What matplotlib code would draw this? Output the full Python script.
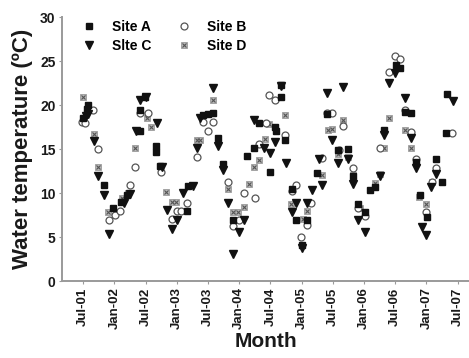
import matplotlib
matplotlib.use("Agg")
import matplotlib.pyplot as plt

# x = months after Jul-01, y = water temperature (oC)
site_a_month = [-0.1, 0.7, 1.0, 3.9, 5.8, 7.3, 8.4, 10.9, 10.9, 11.9, 14.0, 14.0, 14.7,
                19.9, 20.2, 23.1, 24.0, 25.0, 26.0, 26.9, 28.8, 31.5, 32.8, 33.8, 35.9,
                36.8, 37.0, 38.0, 38.0, 38.9, 40.1, 40.9, 42.0, 43.0, 44.9, 46.9, 49.0,
                51.0, 51.9, 52.9, 54.2, 55.1, 56.1, 57.9, 60.1, 60.9, 61.9, 63.0, 64.0,
                64.8, 66.1, 67.8, 69.1, 69.8, 69.9]
site_a_temp = [18.5, 19.6, 20.0, 10.9, 8.3, 9.0, 9.8, 17.0, 19.4, 20.9, 15.3, 14.7, 13.1,
               8.0, 10.8, 18.9, 19.0, 19.1, 16.2, 13.3, 6.9, 14.2, 15.1, 18.0, 12.4,
               17.5, 17.0, 22.3, 20.9, 16.0, 10.5, 6.9, 4.1, 6.9, 12.3, 19.0, 14.9,
               15.0, 11.9, 8.7, 7.9, 10.3, 10.7, 17.2, 24.5, 24.2, 19.2, 19.1, 13.5,
               9.8, 7.3, 13.9, 11.3, 16.8, 21.3]

site_b_month = [-0.2, 0.4, 1.8, 2.9, 4.9, 6.2, 7.1, 9.0, 9.9, 10.9, 12.5, 15.0, 17.0,
                18.0, 18.9, 19.9, 21.8, 23.1, 24.0, 25.0, 27.9, 28.8, 29.9, 30.9, 33.0,
                33.8, 35.2, 35.7, 36.8, 38.9, 40.1, 41.0, 41.9, 43.0, 43.9, 46.0, 46.9,
                47.9, 49.2, 50.0, 51.9, 52.9, 54.2, 57.0, 58.9, 60.0, 60.9, 61.9, 63.0,
                64.0, 66.0, 67.0, 67.9, 70.9]
site_b_temp = [18.1, 18.0, 19.4, 15.0, 6.9, 7.5, 8.0, 10.9, 13.0, 19.1, 19.1, 12.4, 7.0,
               8.0, 8.0, 8.9, 14.1, 18.1, 17.0, 18.1, 11.2, 6.3, 6.9, 10.0, 9.4,
               15.6, 18.0, 21.1, 20.6, 16.6, 10.2, 10.9, 5.0, 6.4, 8.9, 14.0, 19.1,
               19.1, 14.9, 17.6, 12.8, 8.3, 7.4, 15.1, 23.8, 25.6, 25.2, 19.4, 16.9,
               13.9, 7.9, 11.3, 12.8, 16.8]

site_c_month = [0.5, 1.0, 2.0, 2.8, 3.9, 5.0, 7.8, 9.0, 10.1, 11.0, 12.1, 14.1, 15.1,
                16.1, 17.0, 18.0, 19.2, 21.2, 21.8, 22.4, 25.0, 26.0, 26.9, 27.9, 28.8,
                29.9, 30.9, 32.8, 34.8, 36.0, 36.8, 38.0, 39.0, 40.1, 41.0, 42.0, 43.0,
                44.0, 45.4, 46.0, 46.8, 47.9, 49.0, 49.9, 51.0, 51.9, 52.9, 54.2, 57.1,
                57.9, 58.9, 60.0, 61.9, 63.0, 64.0, 65.1, 66.0, 66.9, 67.9, 71.2]
site_c_temp = [18.7, 19.0, 15.9, 11.9, 9.8, 5.4, 8.9, 9.9, 17.0, 20.6, 20.9, 17.9, 13.0,
               8.1, 5.9, 6.9, 10.0, 10.8, 15.1, 18.5, 21.9, 15.3, 12.6, 8.9, 3.1,
               5.6, 6.9, 18.3, 15.1, 14.5, 15.8, 22.2, 13.4, 7.9, 8.9, 3.7, 8.9,
               10.3, 13.9, 10.9, 21.4, 16.0, 13.4, 22.1, 13.9, 11.0, 6.9, 5.6, 11.9,
               16.6, 22.5, 23.6, 20.8, 16.2, 12.8, 6.1, 5.2, 10.7, 12.2, 20.4]

site_d_month = [-0.1, 2.0, 2.9, 4.8, 7.4, 8.7, 9.9, 12.2, 13.0, 15.9, 17.0, 17.8, 21.8,
                22.4, 25.0, 27.9, 28.8, 29.8, 30.9, 31.9, 32.8, 33.8, 34.9, 35.7, 38.9,
                39.9, 42.2, 43.0, 45.9, 47.0, 47.9, 49.0, 49.9, 51.0, 51.9, 53.2, 56.1,
                57.1, 57.9, 58.9, 61.9, 63.0, 64.6, 65.9, 67.1]
site_d_temp = [20.9, 16.7, 12.9, 7.9, 9.4, 10.0, 15.1, 18.5, 17.5, 10.1, 9.0, 9.0, 16.0,
               16.0, 20.6, 10.5, 7.9, 7.9, 8.4, 11.0, 13.0, 13.75, 16.1, 17.8, 18.9,
               8.8, 7.0, 8.0, 12.0, 17.2, 17.3, 14.4, 18.3, 14.1, 12.0, 8.3, 11.1,
               12.2, 15.1, 18.5, 17.2, 15.1, 9.6, 8.8, 11.3]

tick_months = [0, 6, 12, 18, 24, 30, 36, 42, 48, 54, 60, 66, 72]
tick_labels = ["Jul-01", "Jan-02", "Jul-02", "Jan-03", "Jul-03", "Jan-04", "Jul-04",
               "Jan-05", "Jul-05", "Jan-06", "Jul-06", "Jan-07", "Jul-07"]

plt.rcParams["font.family"] = ["Liberation Sans", "DejaVu Sans"]
plt.rcParams["font.weight"] = "bold"

fig = plt.figure(figsize=(4.69, 3.58), dpi=100)
ax = fig.add_axes([0.132, 0.215, 0.868, 0.7375])

pa, = ax.plot(site_a_month, site_a_temp, ls="none", marker="s", ms=4.5,
              mfc="#111111", mec="#111111", zorder=4)
pb, = ax.plot(site_b_month, site_b_temp, ls="none", marker="o", ms=5.0,
              mfc="white", mec="#555555", mew=0.9, zorder=3)
pc, = ax.plot(site_c_month, site_c_temp, ls="none", marker="v", ms=5.2,
              mfc="#111111", mec="#111111", zorder=5)
pd1, = ax.plot(site_d_month, site_d_temp, ls="none", marker="s", ms=4.8,
               mfc="#b8b8b8", mec="#9a9a9a", mew=0.6, zorder=2)
pd2, = ax.plot(site_d_month, site_d_temp, ls="none", marker="x", ms=3.3,
               mec="#555555", mew=0.8, zorder=2)

ax.set_xlim(-4.1, 74.2)
ax.set_ylim(0, 30)
ax.set_yticks([0, 5, 10, 15, 20, 25, 30])
ax.set_xticks(tick_months)
ax.set_xticklabels(tick_labels, rotation=90, fontsize=9.5, fontweight="bold")
for lab in ax.get_yticklabels():
    lab.set_fontsize(10)
    lab.set_fontweight("bold")

for side in ["top", "right"]:
    ax.spines[side].set_visible(False)
for side in ["left", "bottom"]:
    ax.spines[side].set_color("#9a9a9a")
    ax.spines[side].set_linewidth(1.4)
ax.tick_params(axis="both", color="#9a9a9a", length=2.5, width=0.8,
               labelcolor="#1a1a1a", pad=2)

ax.set_ylabel("Water temperature (ºC)", fontsize=16, fontweight="bold",
              color="#1a1a1a", labelpad=5)
ax.set_xlabel("Month", fontsize=15, fontweight="bold", color="#1a1a1a", labelpad=2)

ax.legend([pa, pc, pb, (pd1, pd2)], ["Site A", "Slte C", "Site B", "Site D"],
          ncol=2, loc="upper left", bbox_to_anchor=(0.02, 1.035), frameon=False,
          prop={"size": 10, "weight": "bold"}, handletextpad=1.1,
          columnspacing=1.9, labelspacing=0.35, handlelength=1.0)

fig.savefig("out.png", dpi=100)
